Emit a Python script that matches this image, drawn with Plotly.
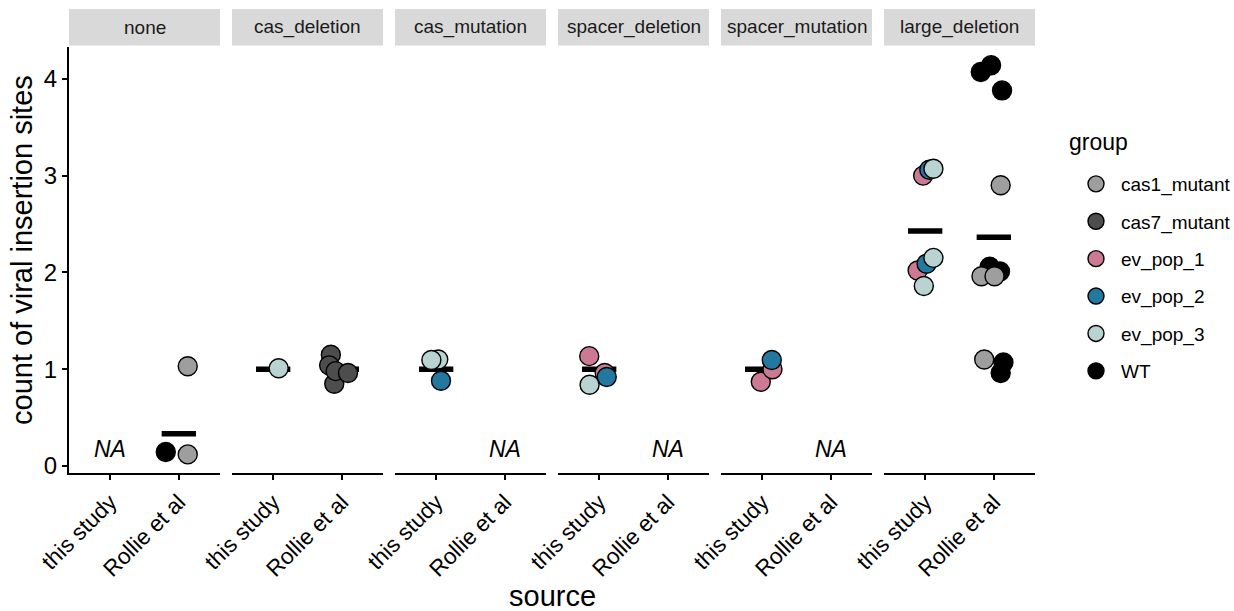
import plotly.graph_objects as go

# ---------------- data ----------------
panels = ["none", "cas_deletion", "cas_mutation", "spacer_deletion", "spacer_mutation", "large_deletion"]
sources = ["this study", "Rollie et al"]
groups = ["cas1_mutant", "cas7_mutant", "ev_pop_1", "ev_pop_2", "ev_pop_3", "WT"]
group_colors = ["#9E9E9E", "#4D4D4D", "#CC7A93", "#23789F", "#B9D3D3", "#000000"]

pt_panel = (["none"] * 3 + ["cas_deletion"] * 6 + ["cas_mutation"] * 3 + ["spacer_deletion"] * 4
            + ["spacer_mutation"] * 3 + ["large_deletion"] * 18)
pt_source = ([1, 1, 1] + [0, 1, 1, 1, 1, 1] + [0, 0, 0] + [0, 0, 0, 0] + [0, 0, 0]
             + [0] * 7 + [1] * 11)
pt_group = (["WT", "cas1_mutant", "cas1_mutant"]
            + ["ev_pop_3"] + ["cas7_mutant"] * 5
            + ["ev_pop_3", "ev_pop_3", "ev_pop_2"]
            + ["ev_pop_1", "ev_pop_1", "ev_pop_2", "ev_pop_3"]
            + ["ev_pop_1", "ev_pop_1", "ev_pop_2"]
            + ["ev_pop_1", "ev_pop_2", "ev_pop_3", "ev_pop_1", "ev_pop_2", "ev_pop_3", "ev_pop_3"]
            + ["WT", "WT", "WT", "cas1_mutant", "WT", "WT", "cas1_mutant", "cas1_mutant",
               "cas1_mutant", "WT", "WT"])
pt_count = ([0, 0, 1]
            + [1] + [1, 1, 1, 1, 1]
            + [1, 1, 1]
            + [1, 1, 1, 1]
            + [1, 1, 1]
            + [3, 3, 3, 2, 2, 2, 2]
            + [4, 4, 4, 3, 2, 2, 2, 2, 1, 1, 1])
pt_dx = ([-0.19, 0.13, 0.13]
         + [0.08] + [-0.11, -0.16, -0.185, -0.09, 0.09]
         + [0.03, -0.07, 0.07]
         + [-0.145, 0.08, 0.11, -0.14]
         + [-0.02, 0.15, 0.14]
         + [-0.03, 0.06, 0.12, -0.11, 0.02, 0.12, -0.02]
         + [-0.19, -0.04, 0.12, 0.10, -0.06, 0.09, -0.18, 0.01, -0.14, 0.14, 0.10])
pt_dy = ([0.145, 0.12, 0.03]
         + [0.01] + [-0.15, 0.15, 0.04, -0.02, -0.04]
         + [0.10, 0.095, -0.12]
         + [0.135, -0.04, -0.08, -0.16]
         + [-0.13, 0.0, 0.095]
         + [0.0, 0.06, 0.07, 0.02, 0.09, 0.15, -0.14]
         + [0.07, 0.14, -0.12, -0.10, 0.06, 0.01, -0.04, -0.04, 0.10, 0.07, -0.04])

na_panel = ["none", "cas_mutation", "spacer_deletion", "spacer_mutation"]
na_source = ["this study", "Rollie et al", "Rollie et al", "Rollie et al"]
na_y = 0.18

y_ticks = [0, 1, 2, 3, 4]

# ---------------- layout geometry ----------------
W, H = 1234, 611
panel_left0, panel_w, panel_step = 69, 151, 163
plot_top, plot_bottom = 47, 473
strip_top, strip_bottom = 9, 45.5
FONT = "Liberation Sans, Arial, sans-serif"

def px_x(p):
    return p / W

def px_y(p):
    return 1 - p / H

fig = go.Figure()

def axname(i, kind):
    return kind if i == 0 else f"{kind}{i + 1}"

# mean bars (below points)
for i, pan in enumerate(panels):
    for s in range(2):
        vals = [c for c, p, so in zip(pt_count, pt_panel, pt_source) if p == pan and so == s]
        if not vals:
            continue
        m = sum(vals) / len(vals)
        fig.add_trace(go.Scatter(
            x=[s + 1 - 0.25, s + 1 + 0.25], y=[m, m], mode="lines",
            line=dict(color="black", width=5.5), showlegend=False, hoverinfo="skip",
            xaxis=axname(i, "x"), yaxis="y"))

# points, each observation its own trace to keep data drawing order
shown = set()
for pan, so, g, c, dx, dy in zip(pt_panel, pt_source, pt_group, pt_count, pt_dx, pt_dy):
    i = panels.index(pan)
    gi = groups.index(g)
    fig.add_trace(go.Scatter(
        x=[so + 1 + dx], y=[c + dy], mode="markers",
        marker=dict(size=19, color=group_colors[gi], line=dict(color="black", width=1.4)),
        name=g, legendgroup=g, legendrank=gi + 1, showlegend=g not in shown,
        xaxis=axname(i, "x"), yaxis="y"))
    shown.add(g)

shapes = []
annotations = []
layout_axes = {}
for i, pan in enumerate(panels):
    left = panel_left0 + panel_step * i
    right = left + panel_w
    key = "xaxis" if i == 0 else f"xaxis{i + 1}"
    layout_axes[key] = dict(
        domain=[px_x(left), px_x(right)], range=[0.4, 2.6], anchor="y", automargin=False,
        tickmode="array", tickvals=[1, 2], ticktext=sources, tickangle=-45,
        showline=True, linecolor="black", linewidth=2, ticks="outside", ticklen=5,
        tickwidth=2, tickcolor="black", showgrid=False, zeroline=False,
        tickfont=dict(family=FONT, size=22.5, color="black"),
        fixedrange=True)
    shapes.append(dict(type="rect", xref="paper", yref="paper",
                       x0=px_x(left), x1=px_x(right), y0=px_y(strip_bottom), y1=px_y(strip_top),
                       fillcolor="#D9D9D9", line=dict(width=0), layer="below"))
    annotations.append(dict(text=pan, xref="paper", yref="paper",
                            x=px_x((left + right) / 2), y=px_y((strip_top + strip_bottom) / 2),
                            xanchor="center", yanchor="middle", showarrow=False,
                            font=dict(family=FONT, size=19, color="#1A1A1A")))

for pan, src in zip(na_panel, na_source):
    i = panels.index(pan)
    annotations.append(dict(text="<i>NA</i>", x=sources.index(src) + 1, y=na_y,
                            xref=axname(i, "x"), yref="y", showarrow=False,
                            xanchor="center", yanchor="middle",
                            font=dict(family=FONT, size=23, color="black")))

annotations.append(dict(text="count of viral insertion sites", xref="paper", yref="paper",
                        x=px_x(22), y=px_y(250), textangle=-90, showarrow=False,
                        xanchor="center", yanchor="middle",
                        font=dict(family=FONT, size=29, color="black")))
annotations.append(dict(text="source", xref="paper", yref="paper",
                        x=px_x(552), y=px_y(596), showarrow=False,
                        xanchor="center", yanchor="middle",
                        font=dict(family=FONT, size=29, color="black")))
annotations.append(dict(text="group", xref="paper", yref="paper",
                        x=px_x(1067), y=px_y(142), showarrow=False,
                        xanchor="left", yanchor="middle",
                        font=dict(family=FONT, size=23, color="black")))

y0_val = -0.0723
y1_val = 4.3285
fig.update_layout(
    width=W, height=H, margin=dict(l=0, r=0, t=0, b=0, autoexpand=False),
    paper_bgcolor="white", plot_bgcolor="white",
    yaxis=dict(domain=[px_y(plot_bottom), px_y(plot_top)], range=[y0_val, y1_val], anchor="x",
               automargin=False,
               tickmode="array", tickvals=y_ticks, showline=True, linecolor="black", linewidth=2,
               ticks="outside", ticklen=5, tickwidth=2, tickcolor="black", showgrid=False,
               zeroline=False, fixedrange=True,
               tickfont=dict(family=FONT, size=24, color="black")),
    shapes=shapes, annotations=annotations,
    legend=dict(x=px_x(1071), y=px_y(165), xanchor="left", yanchor="top",
                font=dict(family=FONT, size=19, color="black"),
                tracegroupgap=9.7, itemsizing="trace", itemwidth=40, bgcolor="rgba(0,0,0,0)"),
    showlegend=True,
)
fig.update_layout(**layout_axes)

fig.write_html("out.html")
